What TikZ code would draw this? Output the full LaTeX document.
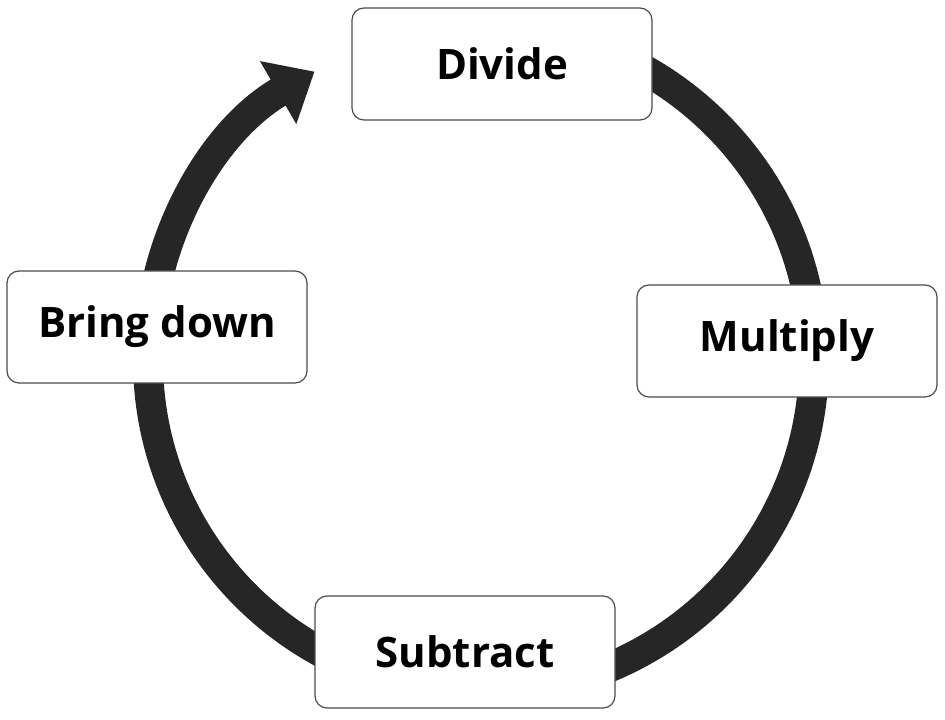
\documentclass[tikz,border=0pt]{standalone}
\usepackage{fontspec}
\setsansfont{Open Sans}
\usetikzlibrary{arrows.meta}
\begin{document}
\begin{tikzpicture}[
   x=1pt,y=1pt,
   font=\sffamily\bfseries\fontsize{42}{46}\selectfont,
   ring/.style={line width=30pt,color=black!85,-{Triangle[length=42pt,width=70pt]}},
   stage/.style={draw=black!70,line width=1.2pt,rounded corners=12pt,fill=white,
                minimum width=300pt,minimum height=112pt,inner sep=0pt}]
\useasboundingbox (0,0) rectangle (945,720);
\coordinate (center) at (481,360);
\draw[ring] ([shift={(90:333)}]center) arc[start angle=90,end angle=-240,radius=333];
\node[stage] (divide)   at (502,656) {Divide};
\node[stage] (bring)    at (157,393) {Bring down};
\node[stage] (multiply) at (787,379) {Multiply};
\node[stage] (subtract) at (465,68)  {Subtract};
\end{tikzpicture}
\end{document}
